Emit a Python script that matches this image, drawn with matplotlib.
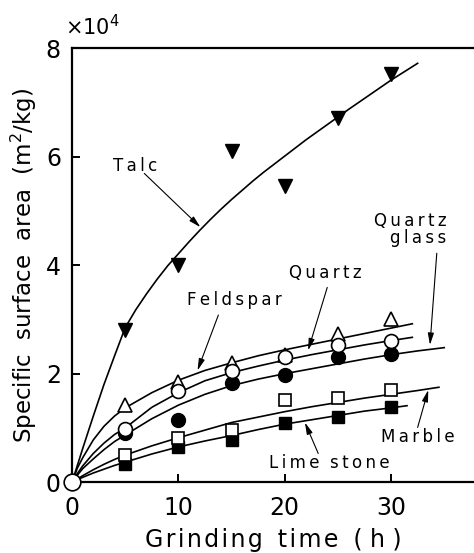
import matplotlib
matplotlib.use('Agg')
import matplotlib.pyplot as plt

# measured points (grinding time in h, surface area in 1e4 m2/kg)
t_pts = [5, 10, 15, 20, 25, 30]
talc = [2.8, 4.0, 6.1, 5.45, 6.72, 7.52]
feldspar = [1.42, 1.84, 2.19, 2.35, 2.73, 3.0]
quartz = [0.98, 1.68, 2.05, 2.3, 2.53, 2.6]
quartz_glass = [0.9, 1.14, 1.82, 1.97, 2.3, 2.36]
marble = [0.5, 0.81, 0.96, 1.51, 1.55, 1.7]
lime_stone = [0.33, 0.65, 0.77, 1.09, 1.2, 1.38]

# fitted curves
talc_cx = [0, 1, 2, 3, 4, 5, 6, 7, 8, 9, 10, 11, 12, 13, 14, 15, 16, 17, 18, 19, 20,
           22, 24, 26, 28, 30, 32.5]
talc_cy = [0, 0.62, 1.22, 1.8, 2.33, 2.85, 3.18, 3.47, 3.74, 3.99, 4.21, 4.43, 4.64,
           4.84, 5.03, 5.21, 5.38, 5.55, 5.71, 5.86, 6.01, 6.31, 6.59, 6.87, 7.14, 7.41, 7.72]

feld_cx = [0, 0.5, 1, 2, 3, 4, 5, 7.5, 10, 12.5, 15, 17.5, 20, 22.5, 25, 27.5, 30, 32]
feld_cy = [0, 0.26, 0.45, 0.78, 1.03, 1.22, 1.37, 1.65, 1.88, 2.06, 2.2, 2.33, 2.44,
           2.54, 2.64, 2.74, 2.84, 2.92]

qz_cx = [0, 0.5, 1, 2, 3, 4, 5, 7.5, 10, 12.5, 15, 17.5, 20, 22.5, 25, 27.5, 30, 32]
qz_cy = [0, 0.16, 0.3, 0.53, 0.72, 0.88, 1.0, 1.38, 1.65, 1.87, 2.02, 2.14, 2.25,
         2.35, 2.44, 2.53, 2.61, 2.67]

qg_cx = [0, 0.5, 1, 2, 3, 4, 5, 7.5, 10, 12.5, 15, 17.5, 20, 22.5, 25, 27.5, 30, 32.5, 35]
qg_cy = [0, 0.13, 0.25, 0.43, 0.6, 0.75, 0.87, 1.17, 1.42, 1.62, 1.78, 1.9, 2.0, 2.09,
         2.18, 2.27, 2.35, 2.42, 2.48]

mb_cx = [0, 1, 2, 3, 4, 5, 7.5, 10, 12.5, 15, 17.5, 20, 22.5, 25, 27.5, 30, 32.5, 34.5]
mb_cy = [0, 0.12, 0.23, 0.33, 0.42, 0.5, 0.67, 0.82, 0.96, 1.1, 1.2, 1.3, 1.39, 1.47,
         1.55, 1.62, 1.69, 1.75]

ls_cx = [0, 1, 2, 3, 4, 5, 7.5, 10, 12.5, 15, 17.5, 20, 22.5, 25, 27.5, 30, 31.5]
ls_cy = [0, 0.09, 0.17, 0.24, 0.31, 0.37, 0.52, 0.65, 0.76, 0.86, 0.97, 1.07, 1.15,
         1.23, 1.31, 1.37, 1.41]

xticks = [0, 10, 20, 30]
yticks = [0, 2, 4, 6, 8]


def spaced(s, sep='\u2009'):
    # the scanned figure has wide letter spacing
    return '  '.join(sep.join(w) for w in s.split(' '))


plt.rcParams['font.family'] = 'DejaVu Sans'

fig = plt.figure(figsize=(4.74, 5.53), dpi=100)
ax = fig.add_axes([0.152, 0.128, 0.848, 0.785])

for cx, cy in [(talc_cx, talc_cy), (feld_cx, feld_cy), (qz_cx, qz_cy),
               (qg_cx, qg_cy), (mb_cx, mb_cy), (ls_cx, ls_cy)]:
    ax.plot(cx, cy, color='black', lw=1.2, zorder=2)

ms = 10
ax.plot(t_pts, talc, linestyle='none', marker='v', ms=ms, color='black', zorder=3)
ax.plot(t_pts, feldspar, linestyle='none', marker='^', ms=ms, mfc='white', mec='black', mew=1.2, zorder=3)
ax.plot(t_pts, quartz_glass, linestyle='none', marker='o', ms=ms, color='black', zorder=4)
ax.plot(t_pts, lime_stone, linestyle='none', marker='s', ms=ms - 1, color='black', zorder=4)
ax.plot(t_pts, quartz, linestyle='none', marker='o', ms=ms, mfc='white', mec='black', mew=1.2, zorder=5)
ax.plot(t_pts, marble, linestyle='none', marker='s', ms=ms - 1, mfc='white', mec='black', mew=1.2, zorder=5)
ax.plot([0], [0], linestyle='none', marker='o', ms=12, mfc='white', mec='black', mew=1.2,
        zorder=6, clip_on=False)

ax.set_xlim(0, 37.8)
ax.set_ylim(0, 8)
ax.set_xticks(xticks)
ax.set_yticks(yticks)
ax.spines['right'].set_visible(False)
for s in ['left', 'bottom', 'top']:
    ax.spines[s].set_linewidth(1.6)
ax.tick_params(direction='in', length=6, width=1.4, labelsize=17)
ax.tick_params(axis='x', pad=10)
ax.tick_params(axis='y', pad=8)

ax.set_xlabel(spaced('Grinding time', '\u200a') + '  ( h )', fontsize=17, labelpad=6)
ax.set_ylabel('Specific  surface  area  (m$^2$/kg)', fontsize=16.5, labelpad=5)
fig.text(0.137, 0.951, r'$\times$10$^4$', fontsize=15, ha='left', va='center')

arrow = dict(arrowstyle='-|>,head_width=0.18,head_length=0.7', color='black', lw=0.8,
             shrinkA=0, shrinkB=0)
tsize = 12

# label texts
ax.text(5.96, 5.82, spaced('Talc'), fontsize=tsize, ha='center', va='center')
ax.text(15.25, 3.35, spaced('Feldspar'), fontsize=tsize, ha='center', va='center')
ax.text(23.8, 3.85, spaced('Quartz'), fontsize=tsize, ha='center', va='center')
ax.text(35.2, 4.66, spaced('Quartz') + '\n' + spaced('glass'), fontsize=tsize,
        ha='right', va='center', multialignment='right', linespacing=0.95)
ax.text(32.5, 0.83, spaced('Marble'), fontsize=tsize, ha='center', va='center')
ax.text(24.2, 0.35, spaced('Lime stone'), fontsize=tsize, ha='center', va='center')

# arrows: (tip, tail)
ax.annotate('', xy=(12.07, 4.70), xytext=(6.8, 5.69), arrowprops=arrow)
ax.annotate('', xy=(11.8, 2.06), xytext=(13.76, 3.08), arrowprops=arrow)
ax.annotate('', xy=(22.2, 2.43), xytext=(24.0, 3.59), arrowprops=arrow)
ax.annotate('', xy=(33.66, 2.53), xytext=(34.3, 4.22), arrowprops=arrow)
ax.annotate('', xy=(33.5, 1.70), xytext=(32.5, 1.01), arrowprops=arrow)
ax.annotate('', xy=(21.9, 1.10), xytext=(23.15, 0.53), arrowprops=arrow)

fig.savefig('out.png', dpi=100)
